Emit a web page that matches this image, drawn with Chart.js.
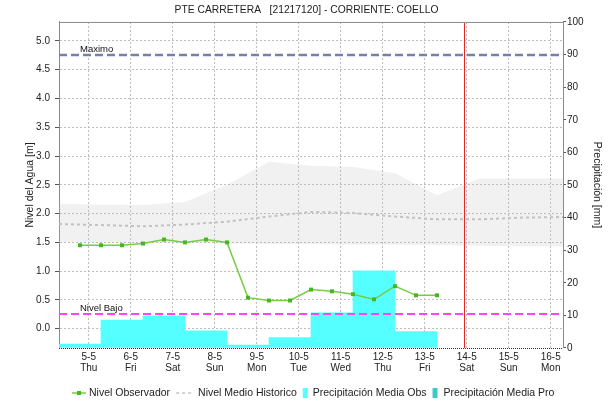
<!DOCTYPE html>
<html>
<head>
<meta charset="utf-8">
<title>PTE CARRETERA - COELLO</title>
<script src="https://cdn.jsdelivr.net/npm/chart.js@4.4.0/dist/chart.umd.min.js"></script>
<style>
  html, body { margin: 0; padding: 0; background: #fff; }
</style>
</head>
<body>
<canvas id="chart" width="613" height="403"></canvas>
<script>
// days shown on the time axis (ticks at 00:00)
const days = ['5-5', '6-5', '7-5', '8-5', '9-5', '10-5', '11-5', '12-5', '13-5', '14-5', '15-5', '16-5']
const weekdays = ['Thu', 'Fri', 'Sat', 'Sun', 'Mon', 'Tue', 'Wed', 'Thu', 'Fri', 'Sat', 'Sun', 'Mon']
const rangeStart = '4-5 07:00'
const rangeEnd = '16-5 07:00'
const nowTime = '13-5 22:30'

// observed level [m], readings at 07:00 and 19:00
const levelTimes = [
  '4-5 19:00', '5-5 07:00', '5-5 19:00', '6-5 07:00', '6-5 19:00', '7-5 07:00',
  '7-5 19:00', '8-5 07:00', '8-5 19:00', '9-5 07:00', '9-5 19:00', '10-5 07:00',
  '10-5 19:00', '11-5 07:00', '11-5 19:00', '12-5 07:00', '12-5 19:00', '13-5 07:00'
]
const levelObs = [1.45, 1.45, 1.45, 1.48, 1.55, 1.50, 1.55, 1.50, 0.54, 0.49, 0.49, 0.68, 0.65, 0.60, 0.51, 0.74, 0.58, 0.58]

// historic level: mean and min/max envelope, daily at 07:00
const histTimes = [
  '4-5 07:00', '5-5 07:00', '6-5 07:00', '7-5 07:00', '8-5 07:00', '9-5 07:00', '10-5 07:00',
  '11-5 07:00', '12-5 07:00', '13-5 07:00', '14-5 07:00', '15-5 07:00', '16-5 07:00'
]
const histMean = [1.82, 1.80, 1.78, 1.81, 1.86, 1.95, 2.03, 2.01, 1.95, 1.90, 1.90, 1.93, 1.94]
const histMax = [2.17, 2.16, 2.15, 2.20, 2.50, 2.90, 2.83, 2.81, 2.70, 2.32, 2.61, 2.61, 2.61]
const histMin = [1.51, 1.50, 1.50, 1.49, 1.48, 1.47, 1.47, 1.46, 1.46, 1.45, 1.44, 1.43, 1.43]

// daily rainfall [mm], each period runs 07:00 -> 07:00 of the next day
const rainDays = ['4-5', '5-5', '6-5', '7-5', '8-5', '9-5', '10-5', '11-5', '12-5']
const rainObs = [1.2, 8.6, 9.9, 5.3, 0.9, 3.2, 10.8, 23.7, 5.0]
const rainPro = []

const levelTicks = [0, 0.5, 1, 1.5, 2, 2.5, 3, 3.5, 4, 4.5, 5]
const rainTicks = [0, 10, 20, 30, 40, 50, 60, 70, 80, 90, 100]
const nivelMaximo = 4.75
const nivelBajo = 0.25

const sans = "'Liberation Sans', Arial, sans-serif"

// hours since 5-5 00:00 (all dates in May)
function hoursOf(s) {
  const [d, t] = s.split(' ')
  const day = Number(d.split('-')[0])
  const [h, m] = (t || '00:00').split(':').map(Number)
  return (day - 5) * 24 + h + m / 60
}

const series = (times, values) => times.map((t, i) => ({ x: hoursOf(t), y: values[i] }))
const rainSeries = values => values.map((v, i) => ({ x: hoursOf(rainDays[i] + ' 07:00') + 12, y: v }))

const gridColor = '#bdbdbd'

const overlay = {
  id: 'overlay',
  afterDatasetsDraw(chart) {
    const { ctx, chartArea: a, scales } = chart
    const y = scales.y
    ctx.save()
    ctx.lineWidth = 2.5
    ctx.setLineDash([8, 4])
    ctx.strokeStyle = '#7282aa'
    const ym = Math.round(y.getPixelForValue(nivelMaximo))
    ctx.beginPath(); ctx.moveTo(a.left, ym); ctx.lineTo(a.right, ym); ctx.stroke()
    ctx.lineWidth = 2
    ctx.strokeStyle = '#ff44ff'
    const yb = Math.round(y.getPixelForValue(nivelBajo))
    ctx.beginPath(); ctx.moveTo(a.left, yb); ctx.lineTo(a.right, yb); ctx.stroke()

    ctx.setLineDash([])
    ctx.fillStyle = '#111'
    ctx.font = '9.5px ' + sans
    ctx.textBaseline = 'alphabetic'
    ctx.fillText('Maximo', a.left + 21, ym - 3)
    ctx.fillText('Nivel Bajo', a.left + 21, yb - 3)

    const xn = Math.round(scales.x.getPixelForValue(hoursOf(nowTime))) + 0.5
    ctx.strokeStyle = '#e02828'
    ctx.lineWidth = 1
    ctx.beginPath(); ctx.moveTo(xn, a.top); ctx.lineTo(xn, a.bottom); ctx.stroke()

    // frame: top edge and dotted base line
    ctx.strokeStyle = '#8a8a8a'
    ctx.beginPath(); ctx.moveTo(a.left, a.top + 0.5); ctx.lineTo(a.right, a.top + 0.5); ctx.stroke()
    ctx.strokeStyle = '#333'
    ctx.setLineDash([1, 1])
    ctx.beginPath(); ctx.moveTo(a.left, a.bottom + 0.5); ctx.lineTo(a.right, a.bottom + 0.5); ctx.stroke()
    ctx.restore()
  }
}

const legendItems = [
  { text: 'Nivel Observador', w: 14, gap: 3 },
  { text: 'Nivel Medio Historico', w: 17, gap: 5 },
  { text: 'Precipitación Media Obs', w: 5, gap: 5, color: '#55ffff' },
  { text: 'Precipitación Media Pro', w: 5, gap: 6, color: '#40c8c8' }
]

const bottomLegend = {
  id: 'bottomLegend',
  afterDraw(chart) {
    const { ctx, chartArea: a } = chart
    ctx.save()
    ctx.font = '10.5px ' + sans
    const spacing = 6
    let total = 0
    legendItems.forEach((it, i) => {
      total += it.w + it.gap + ctx.measureText(it.text).width + (i ? spacing : 0)
    })
    let x = Math.round((a.left + a.right) / 2 + 2 - total / 2)
    const y = 393
    legendItems.forEach((it, i) => {
      if (i === 0) {
        ctx.strokeStyle = '#77cc44'; ctx.lineWidth = 1.5
        ctx.beginPath(); ctx.moveTo(x, y); ctx.lineTo(x + it.w, y); ctx.stroke()
        ctx.fillStyle = '#44b81c'
        ctx.fillRect(x + it.w / 2 - 2, y - 2, 4, 4)
      } else if (i === 1) {
        ctx.strokeStyle = '#c4c4c4'; ctx.lineWidth = 1.5
        ctx.setLineDash([3, 3])
        ctx.beginPath(); ctx.moveTo(x, y); ctx.lineTo(x + it.w, y); ctx.stroke()
        ctx.setLineDash([])
      } else {
        ctx.fillStyle = it.color
        ctx.fillRect(x, y - 5, it.w, 10)
      }
      x += it.w + it.gap
      ctx.fillStyle = '#222'
      ctx.textBaseline = 'middle'
      ctx.fillText(it.text, x, y)
      x += ctx.measureText(it.text).width + spacing
    })
    ctx.restore()
  }
}

const ctx = document.getElementById('chart').getContext('2d')

new Chart(ctx, {
  type: 'line',
  data: {
    datasets: [
      {
        label: 'Nivel Observador',
        data: series(levelTimes, levelObs),
        borderColor: '#77cc44',
        borderWidth: 1.5,
        pointStyle: 'rect',
        pointRadius: 2.8,
        pointBackgroundColor: '#44b81c',
        pointBorderColor: '#44b81c',
        pointBorderWidth: 0,
        yAxisID: 'y',
      },
      {
        label: 'Nivel Medio Historico',
        data: series(histTimes, histMean),
        borderColor: '#c2c2c2',
        borderWidth: 2,
        borderDash: [3, 3],
        pointRadius: 0,
        yAxisID: 'y',
      },
      {
        label: 'Maximo Historico',
        data: series(histTimes, histMax),
        borderWidth: 0,
        pointRadius: 0,
        backgroundColor: 'rgba(190,190,190,0.22)',
        fill: '+1',
        yAxisID: 'y',
      },
      {
        label: 'Minimo Historico',
        data: series(histTimes, histMin),
        borderWidth: 0,
        pointRadius: 0,
        yAxisID: 'y',
      },
      {
        type: 'bar',
        label: 'Precipitación Media Obs',
        data: rainSeries(rainObs),
        backgroundColor: '#55ffff',
        borderWidth: 0,
        barPercentage: 1,
        categoryPercentage: 1,
        grouped: false,
        yAxisID: 'y2',
      },
      {
        type: 'bar',
        label: 'Precipitación Media Pro',
        data: rainSeries(rainPro),
        backgroundColor: '#40c8c8',
        borderWidth: 0,
        barPercentage: 1,
        categoryPercentage: 1,
        grouped: false,
        yAxisID: 'y2',
      },
    ],
  },
  options: {
    responsive: false,
    animation: false,
    devicePixelRatio: 1,
    layout: { padding: { left: 0, right: 0, top: 0, bottom: 25 } },
    plugins: {
      legend: { display: false },
      tooltip: { enabled: false },
      title: {
        display: true,
        text: 'PTE CARRETERA   [21217120] - CORRIENTE: COELLO',
        color: '#222',
        font: { family: sans, size: 10.3, weight: 'normal', lineHeight: 1.2 },
        padding: { top: 4, bottom: 5.6 },
      },
    },
    scales: {
      x: {
        type: 'linear',
        offset: false,
        min: hoursOf(rangeStart),
        max: hoursOf(rangeEnd),
        afterBuildTicks: s => { s.ticks = days.map(d => ({ value: hoursOf(d + ' 00:00') })) },
        afterFit: s => { s.height = 30 },
        ticks: {
          autoSkip: false,
          maxRotation: 0,
          padding: 3,
          color: '#222',
          font: { family: sans, size: 10, lineHeight: 1.15 },
          callback: (v, i) => [days[i], weekdays[i]],
        },
        grid: { offset: false, color: gridColor, lineWidth: 1, drawTicks: false },
        border: { display: false, dash: [2, 2] },
      },
      y: {
        position: 'left',
        min: -0.335,
        max: 5.33,
        afterBuildTicks: s => { s.ticks = levelTicks.map(v => ({ value: v })) },
        afterFit: s => { s.width = 59 },
        ticks: {
          autoSkip: false,
          padding: 5,
          color: '#222',
          font: { family: sans, size: 10 },
          callback: v => v.toFixed(1),
        },
        grid: { color: gridColor, lineWidth: 1, tickLength: 4, tickColor: '#555', tickBorderDash: [] },
        border: { color: '#8a8a8a', dash: [2, 2] },
        title: {
          display: true,
          text: 'Nivel del Agua [m]',
          color: '#222',
          font: { family: sans, size: 10.5 },
          padding: { top: 24, bottom: 0 },
        },
      },
      y2: {
        position: 'right',
        min: 0,
        max: 100,
        afterBuildTicks: s => { s.ticks = rainTicks.map(v => ({ value: v })) },
        afterFit: s => { s.width = 50 },
        ticks: {
          autoSkip: false,
          padding: 1,
          color: '#222',
          font: { family: sans, size: 10 },
        },
        grid: { drawOnChartArea: false, tickLength: 3, tickColor: '#555' },
        border: { color: '#8a8a8a' },
        title: {
          display: true,
          text: 'Precipitación [mm]',
          color: '#222',
          font: { family: sans, size: 10.5 },
          padding: { top: 10, bottom: 0 },
        },
      },
    },
  },
  plugins: [overlay, bottomLegend],
})
</script>
</body>
</html>
